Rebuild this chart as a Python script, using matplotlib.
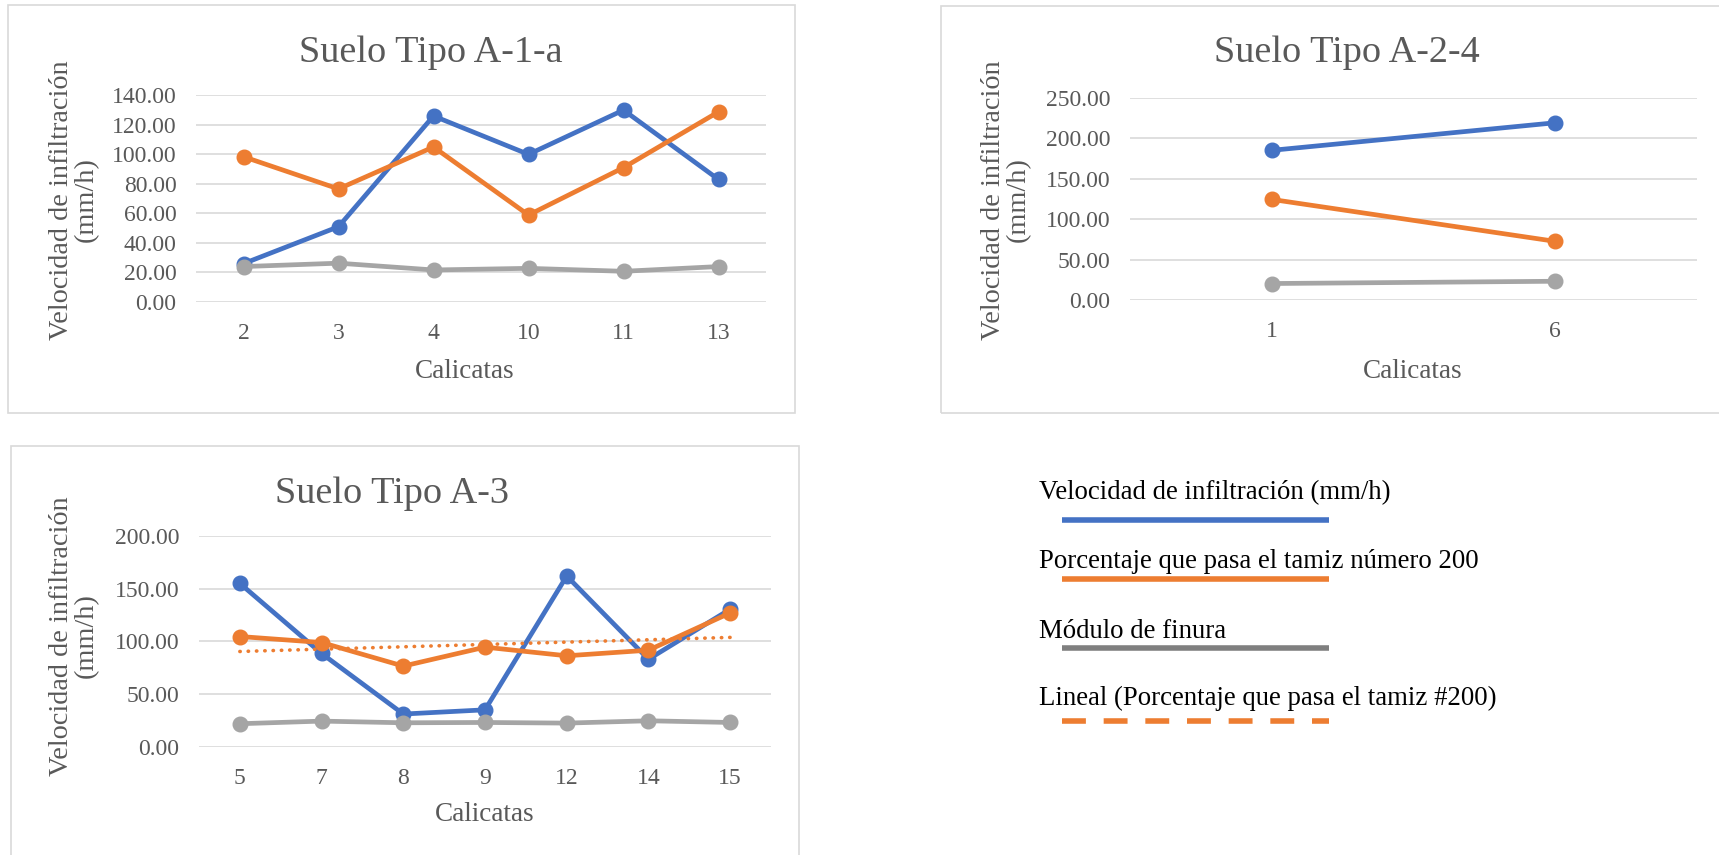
import numpy as np
import matplotlib
matplotlib.use("Agg")
import matplotlib.pyplot as plt
from matplotlib.lines import Line2D
from matplotlib.patches import Rectangle
from matplotlib.ticker import FormatStrFormatter

plt.rcParams["font.family"] = ["Liberation Serif", "DejaVu Serif"]

# Suelo Tipo A-1-a
calicatas_a1a = ["2", "3", "4", "10", "11", "13"]
velocidad_a1a = [26.0, 51.0, 126.0, 100.0, 130.0, 83.0]
tamiz_a1a = [98.4, 76.6, 105.0, 58.9, 91.0, 128.8]
finura_a1a = [24.0, 26.3, 21.7, 22.8, 20.8, 24.0]

# Suelo Tipo A-2-4
calicatas_a24 = ["1", "6"]
velocidad_a24 = [185.0, 219.0]
tamiz_a24 = [124.5, 72.8]
finura_a24 = [20.8, 23.6]

# Suelo Tipo A-3
calicatas_a3 = ["5", "7", "8", "9", "12", "14", "15"]
velocidad_a3 = [155.0, 88.5, 31.0, 35.0, 162.0, 83.0, 130.5]
tamiz_a3 = [104.6, 98.9, 76.5, 94.5, 86.3, 91.6, 127.0]
finura_a3 = [21.8, 24.3, 22.7, 23.0, 22.4, 24.6, 23.0]

legend_labels = [
    "Velocidad de infiltración (mm/h)",
    "Porcentaje que pasa el tamiz número 200",
    "Módulo de finura",
    "Lineal (Porcentaje que pasa el tamiz #200)",
]

BLUE = "#4472C4"
ORANGE = "#ED7D31"
GRAY = "#A5A5A5"
GRID = "#D9D9D9"
TEXT = "#595959"

W, H = 1719, 855
fig = plt.figure(figsize=(W / 100, H / 100), dpi=100)


def box(x0, y0, x1, y1):
    return [x0 / W, 1 - y1 / H, (x1 - x0) / W, (y1 - y0) / H]


def frame(x0, y0, x1, y1):
    fig.add_artist(Rectangle((x0 / W, 1 - y1 / H), (x1 - x0) / W, (y1 - y0) / H,
                             transform=fig.transFigure, fill=False,
                             edgecolor=GRID, lw=1.2))


def panel(rect, cats, vel, tamiz, finura, ymax, ystep, title, title_xy,
          xlabel_xy, ylabel_xy, trend=False):
    ax = fig.add_axes(box(*rect))
    x = np.arange(len(cats))
    style = dict(lw=3.4, marker="o", ms=10.5, clip_on=False,
                 solid_capstyle="round", solid_joinstyle="round")
    ax.plot(x, vel, color=BLUE, zorder=3, **style)
    ax.plot(x, tamiz, color=ORANGE, zorder=4, **style)
    ax.plot(x, finura, color=GRAY, zorder=5, **style)
    if trend:
        coef = np.polyfit(x, tamiz, 1)
        ax.plot(x, np.polyval(coef, x), color=ORANGE, lw=2.6,
                linestyle=(0, (0.1, 2.2)), dash_capstyle="round", zorder=6)

    ax.set_xlim(-0.5, len(cats) - 0.5)
    ax.set_ylim(0, ymax)
    ax.set_xticks(x)
    ax.set_xticklabels(cats)
    ax.set_yticks(np.arange(0, ymax + 1, ystep))
    ax.yaxis.set_major_formatter(FormatStrFormatter("%.2f"))
    ax.grid(axis="y", color=GRID, lw=1.2)
    ax.set_axisbelow(True)
    for s in ax.spines.values():
        s.set_visible(False)
    ax.tick_params(axis="both", length=0, labelsize=17, colors=TEXT)
    ax.tick_params(axis="y", pad=14)
    ax.tick_params(axis="x", pad=15)

    fig.text(title_xy[0] / W, 1 - title_xy[1] / H, title, fontsize=27.5,
             color=TEXT, ha="center", va="center")
    fig.text(xlabel_xy[0] / W, 1 - xlabel_xy[1] / H, "Calicatas",
             fontsize=19.5, color=TEXT, ha="center", va="center")
    fig.text(ylabel_xy[0] / W, 1 - ylabel_xy[1] / H,
             "Velocidad de infiltración\n(mm/h)", fontsize=20.3, color=TEXT,
             rotation=90, ha="center", va="center", multialignment="center",
             linespacing=1.0)
    return ax


# chart frames
frame(8, 5, 795, 413)
frame(941, 6, 1726, 413)
frame(11, 446, 799, 862)

panel((196, 95.3, 766, 302), calicatas_a1a, velocidad_a1a, tamiz_a1a,
      finura_a1a, 140, 20, "Suelo Tipo A-1-a", (431, 53), (465, 371), (74, 200))
panel((1130, 97.6, 1697, 300.4), calicatas_a24, velocidad_a24, tamiz_a24,
      finura_a24, 250, 50, "Suelo Tipo A-2-4", (1347, 53), (1413, 371), (1006, 200))
panel((199, 536, 771, 746.7), calicatas_a3, velocidad_a3, tamiz_a3,
      finura_a3, 200, 50, "Suelo Tipo A-3", (392, 494), (485, 814), (74, 636),
      trend=True)

# shared legend
legend_styles = [
    dict(color=BLUE, lw=4, solid_capstyle="butt"),
    dict(color=ORANGE, lw=4, solid_capstyle="butt"),
    dict(color="#7F7F7F", lw=4, solid_capstyle="butt"),
    dict(color=ORANGE, lw=4, linestyle=(0, (4.3, 3.2)), dash_capstyle="butt"),
]
text_y = [493, 562, 631, 698]
line_y = [520, 579, 648, 721]
for label, st, ty, ly in zip(legend_labels, legend_styles, text_y, line_y):
    fig.text(1039 / W, 1 - ty / H, label, fontsize=19.3, color="black",
             ha="left", va="center")
    fig.add_artist(Line2D([1062 / W, 1329 / W], [1 - ly / H, 1 - ly / H],
                          transform=fig.transFigure, **st))

fig.savefig("out.png", dpi=100, facecolor="white")
